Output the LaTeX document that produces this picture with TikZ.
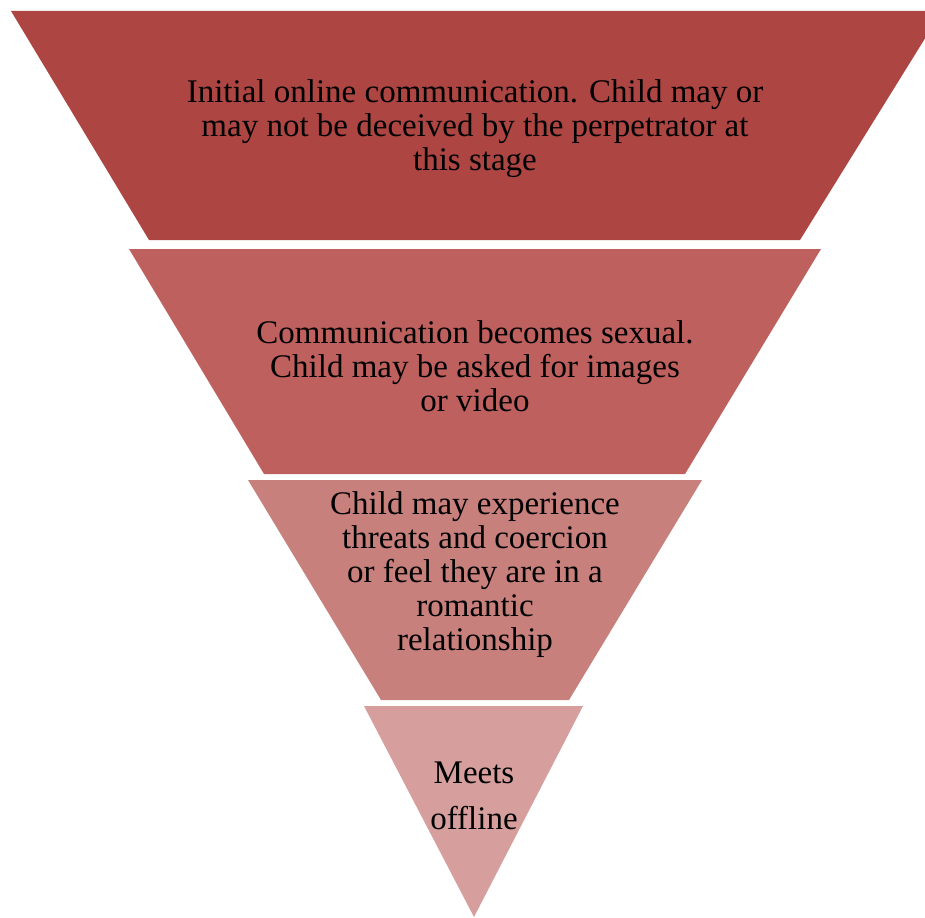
\documentclass[tikz,border=0pt]{standalone}
\usepackage{fontspec}
\setmainfont{Liberation Serif}
\usepackage{tikz}
\usetikzlibrary{positioning}
\definecolor{stageA}{RGB}{173,69,66}
\definecolor{stageB}{RGB}{190,96,93}
\definecolor{stageC}{RGB}{200,128,125}
\definecolor{stageD}{RGB}{214,159,157}

\begin{document}
\begin{tikzpicture}[x=1pt,y=-1pt]
          \tikzstyle{lnode} = [align=center, inner sep=0pt, font=\fontsize{33}{34}\selectfont]

          \useasboundingbox (0,0) rectangle (925,917);
          \begin{scope}
            \clip (0,0) rectangle (925,917);
            \fill[stageA] (11,11) -- (942,11) -- (800,240) -- (149,240) -- cycle;
            \fill[stageB] (129,249) -- (821,249) -- (685,474) -- (264,474) -- cycle;
            \fill[stageC] (248,480) -- (702,480) -- (569,700) -- (381,700) -- cycle;
            \fill[stageD] (364,706) -- (583,706) -- (474,917) -- cycle;
          \end{scope}

          \node[lnode] (initial) at (475,129) {Initial online communication. Child may or\\may not be deceived by the perpetrator at\\this stage};
          \node[lnode] (sexual) at (475,366) {Communication becomes sexual.\\Child may be asked for images\\or video};
          \node[lnode] (threats) at (475,575) {Child may experience\\threats and coercion\\or feel they are in a\\romantic\\relationship};
          \node[lnode] (meets) at (474,796) {Meets\\[12pt]offline};
        \end{tikzpicture}
\end{document}
